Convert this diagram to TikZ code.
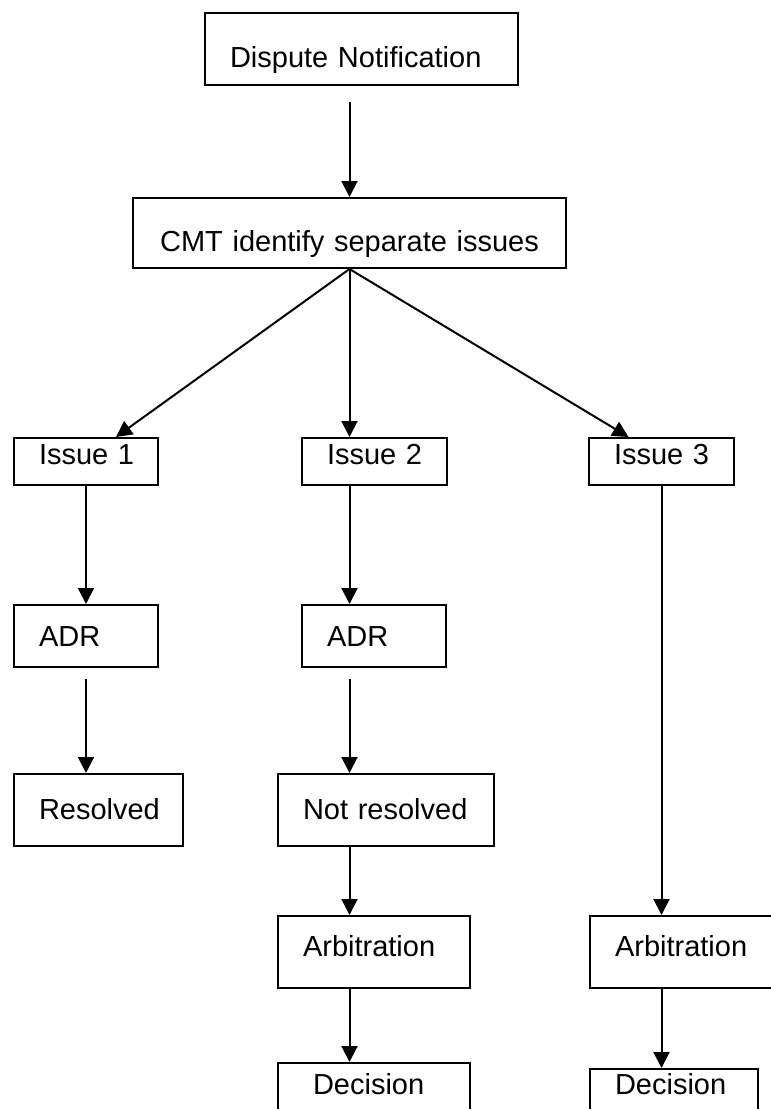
\documentclass[tikz,border=0pt]{standalone}
\usepackage{fontspec}
\setmainfont{Liberation Sans}
\usetikzlibrary{arrows.meta,calc}
\begin{document}
\begin{tikzpicture}[x=1pt,y=-1pt,
  box/.style={draw, line width=2pt, inner xsep=25pt, inner ysep=0pt, align=left,
    anchor=north west, font=\fontsize{29}{34}\selectfont},
  arr/.style={line width=2pt, -{Triangle[length=16pt,width=16pt]}}]
\useasboundingbox (0,0) rectangle (771,1109);
\clip (0,0) rectangle (771,1109);
% boxes
\node[box, text width=263pt, text height=54pt, text depth=18pt] (dn) at (204,12) {\mbox{Dispute Notification}};
\node[box, align=center, text width=383pt, text height=53pt, text depth=17pt] (cmt) at (132,197) {\mbox{CMT identify separate issues}};
\node[box, text width=94pt, text height=26pt, text depth=21pt] (i1) at (13,437) {\mbox{Issue 1}};
\node[box, text width=95pt, text height=26pt, text depth=21pt] (i2) at (301,437) {\mbox{Issue 2}};
\node[box, text width=95pt, text height=26pt, text depth=21pt] (i3) at (588,437) {\mbox{Issue 3}};
\node[box, text width=94pt, text height=41pt, text depth=21pt] (adr1) at (13,604) {\mbox{ADR}};
\node[box, text width=94pt, text height=41pt, text depth=21pt] (adr2) at (301,604) {\mbox{ADR}};
\node[box, text width=119pt, text height=45pt, text depth=27pt] (res) at (13,773) {\mbox{Resolved}};
\node[box, text width=166pt, text height=45pt, text depth=27pt] (nr) at (277,773) {\mbox{Not resolved}};
\node[box, text width=142pt, text height=40pt, text depth=32pt] (arb1) at (277,915) {\mbox{Arbitration}};
\node[box, text width=134pt, text height=40pt, text depth=32pt] (arb2) at (589,915) {\mbox{Arbitration}};
\node[box, text width=142pt, text height=31pt, text depth=32pt] (dec1) at (277,1062) {\mbox{\hspace*{10pt}Decision}};
\node[box, text width=118pt, text height=25pt, text depth=57pt] (dec2) at (589,1068) {\mbox{Decision}};
% connectors
\draw[arr, shorten <=16pt] (cmt.north |- dn.south) -- (cmt.north);
\draw[arr] (cmt.south) -- ([xshift=30pt]i1.north);
\draw[arr] (cmt.south) -- (cmt.south |- i2.north);
\draw[arr] (cmt.south) -- ([xshift=-33pt]i3.north);
\draw[arr] (i1.south) -- (i1.south |- adr1.north);
\draw[arr, shorten <=11pt] (adr1.south) -- (adr1.south |- res.north);
\draw[arr] (cmt.south |- i2.south) -- (cmt.south |- adr2.north);
\draw[arr, shorten <=11pt] (cmt.south |- adr2.south) -- (cmt.south |- nr.north);
\draw[arr] (cmt.south |- nr.south) -- (cmt.south |- arb1.north);
\draw[arr] (cmt.south |- arb1.south) -- (cmt.south |- dec1.north);
\draw[arr] (i3.south) -- (i3.south |- arb2.north);
\draw[arr] (i3.south |- arb2.south) -- (i3.south |- dec2.north);
\end{tikzpicture}
\end{document}
